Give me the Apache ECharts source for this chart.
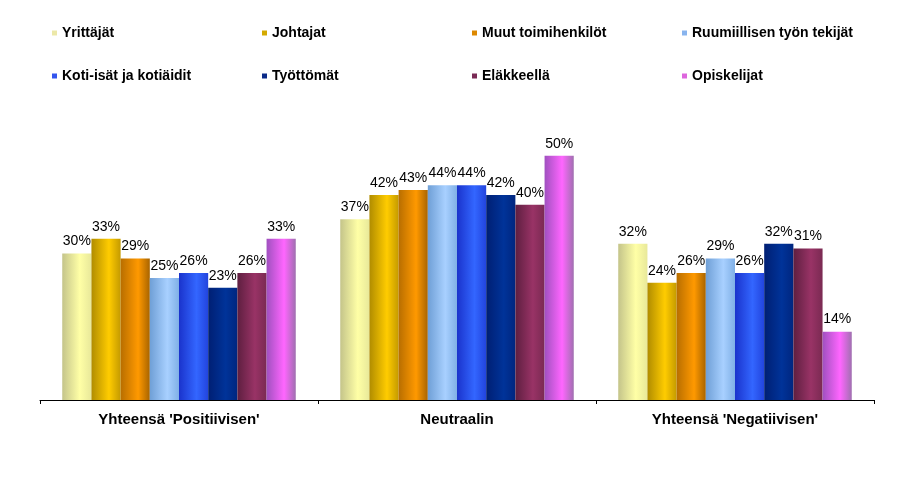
<!DOCTYPE html>
<html><head><meta charset="utf-8">
<script src="https://cdn.jsdelivr.net/npm/echarts@6/dist/echarts.min.js"></script>
<style>html,body{margin:0;padding:0;background:#fff}#c{width:907px;height:486px}</style>
</head><body><div id="c"></div>
<script>
const categories = ["Yhteensä 'Positiivisen'", "Neutraalin", "Yhteensä 'Negatiivisen'"];
const seriesNames = ["Yrittäjät","Johtajat","Muut toimihenkilöt","Ruumiillisen työn tekijät","Koti-isät ja kotiäidit","Työttömät","Eläkkeellä","Opiskelijat"];
const yrittajat = [30, 37, 32];
const johtajat = [33, 42, 24];
const muut = [29, 43, 26];
const ruumiillisen = [25, 44, 29];
const koti = [26, 44, 26];
const tyottomat = [23, 42, 32];
const elakkeella = [26, 40, 31];
const opiskelijat = [33, 50, 14];
const values = [yrittajat, johtajat, muut, ruumiillisen, koti, tyottomat, elakkeella, opiskelijat];

const palette = [
  ["#c4c48a","#ffffa6","#e8e89a"],
  ["#b08c00","#ffcc00","#c49a00"],
  ["#b86e00","#ff9900","#a86400"],
  ["#6f9fd6","#a8d0ff","#80b0e6"],
  ["#1a33cc","#3366ff","#2244dd"],
  ["#001f73","#003399","#00267f"],
  ["#5e1f40","#993366","#7a2a52"],
  ["#a050c0","#ff66ff","#a070b0"]
];
const legendColors = ["#ece8a8","#d4aa00","#dd8800","#88b4ee","#3355ee","#0a2a88","#7a2a55","#dd66dd"];

function grad(c){
  return new echarts.graphic.LinearGradient(0,0,1,0,[
    {offset:0,color:c[0]},{offset:0.6,color:c[1]},{offset:1,color:c[2]}]);
}

const legendPos = [[52,26],[262,26],[472,26],[682,26],[52,69],[262,69],[472,69],[682,69]];
const legends = seriesNames.map((n,i)=>({
  data:[{name:n,itemStyle:{color:legendColors[i]}}],
  left:legendPos[i][0], top:legendPos[i][1], padding:[0,0,0,0],
  icon:'rect', itemWidth:5, itemHeight:5, itemGap:5,
  selectedMode:false,
  textStyle:{fontFamily:'Liberation Sans, Arial', fontWeight:'bold', fontSize:14, color:'#000', padding:[0,0,0,0]}
}));

const chart = echarts.init(document.getElementById('c'));
chart.setOption({
  animation:false,
  legend: legends,
  grid:{left:40, right:33, top:107, bottom:86},
  xAxis:{type:'category', data:categories,
    axisLine:{lineStyle:{color:'#000', width:1}},
    axisTick:{show:true, length:4, lineStyle:{color:'#000'}},
    axisLabel:{fontFamily:'Liberation Sans, Arial', fontWeight:'bold', fontSize:15, color:'#000', margin:12}},
  yAxis:{type:'value', min:0, max:60, show:false, splitLine:{show:false}},
  series: seriesNames.map((n,i)=>({
    name:n, type:'bar', data:values[i], barGap:'0%', barCategoryGap:'16%',
    itemStyle:{color:grad(palette[i])},
    label:{show:true, position:'top', distance:5, formatter:'{c}%', fontFamily:'Liberation Sans, Arial', fontSize:14, color:'#000'}
  }))
});
</script></body></html>
